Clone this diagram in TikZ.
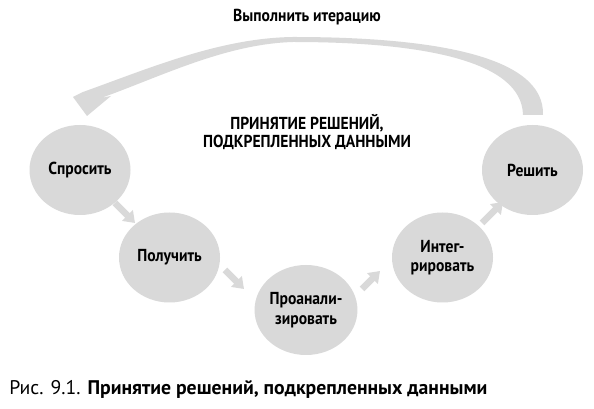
\documentclass[tikz,border=0pt]{standalone}
\usepackage{fontspec}
\setmainfont{PT Sans}
\newfontfamily\labfont[FakeStretch=0.9]{PT Sans}
\usetikzlibrary{shapes.geometric,arrows.meta}
\definecolor{cgray}{RGB}{217,217,217}
\begin{document}
\begin{tikzpicture}[x=0.75pt,y=-0.75pt,
  stage/.style={ellipse, fill=cgray, minimum width=75.75pt, minimum height=67.5pt,
    inner sep=0pt, align=center, font=\labfont\bfseries\fontsize{13}{14.6}\selectfont},
  smallarrow/.style={draw=cgray, line width=5pt, -{Triangle[length=8pt,width=11pt]}},
  titletext/.style={font=\labfont\bfseries\fontsize{13}{13.5}\selectfont, align=center, inner sep=0pt},
  captext/.style={font=\fontsize{14.8}{16}\selectfont, inner sep=0pt, anchor=base west}]
\useasboundingbox (0,0) rectangle (594,409);
\fill[white] (0,0) rectangle (594,409);

% big iteration arrow
\fill[cgray] (543,115) .. controls (545,55) and (430,37) .. (293,37)
  .. controls (220,38) and (150,68) .. (83,92) -- (73,97) -- (87,116) -- (111,96) -- (101,98)
  .. controls (160,77) and (225,44) .. (293,42)
  .. controls (420,42) and (522,60) .. (523,115) -- cycle;

\node[titletext, anchor=base] (iter) at (307,22) {Выполнить итерацию};
\node[titletext] (title) at (307,132) {ПРИНЯТИЕ РЕШЕНИЙ,\\ПОДКРЕПЛЕННЫХ ДАННЫМИ};

\node[stage] (A) at (80,170) {Спросить};
\node[stage] (B) at (169.5,257.5) {Получить};
\node[stage] (C) at (306,310) {Проанали-\\зировать};
\node[stage] (D) at (442.5,257.5) {Интег-\\рировать};
\node[stage] (E) at (532.5,170) {Решить};

\draw[smallarrow] ([shift={(35,33)}]A.center) -- ([shift={(-34.5,-34.5)}]B.center);
\draw[smallarrow] ([shift={(55.5,12.5)}]B.center) -- ([shift={(-62,-21)}]C.center);
\draw[smallarrow] ([shift={(56,-21)}]C.center) -- ([shift={(-62.5,13.5)}]D.center);
\draw[smallarrow] ([shift={(39.5,-34.5)}]D.center) -- ([shift={(-29.5,32)}]E.center);

\node[captext] (cap) at (9,395) {Рис. 9.1. \textbf{Принятие решений, подкрепленных данными}};
\end{tikzpicture}
\end{document}
